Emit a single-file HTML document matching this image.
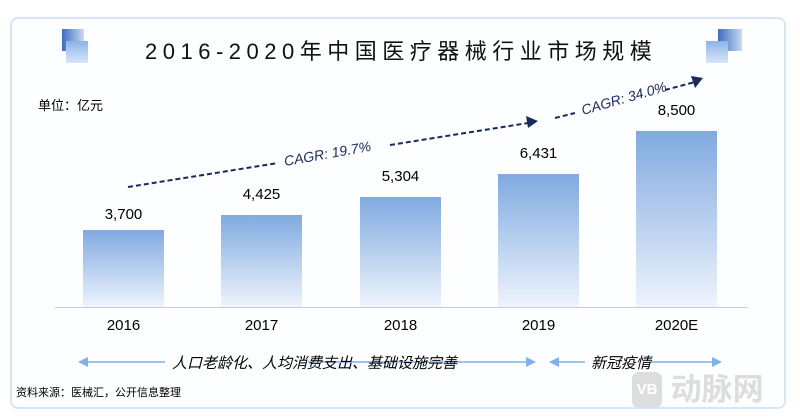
<!DOCTYPE html>
<html><head><meta charset="utf-8"><style>
body{margin:0;width:800px;height:417px;background:#fff;font-family:"Liberation Sans","Noto Sans CJK SC",sans-serif;position:relative;overflow:hidden}
.card{position:absolute;left:10px;top:17px;width:776px;height:392px;border:2px solid #d6e6f6;border-radius:8px;box-sizing:border-box;background:#fdfeff}
.t{position:absolute;white-space:nowrap}
.bar{position:absolute;width:81px;background:linear-gradient(#80aae0,#eef4fc);}
.yr{position:absolute;top:317px;font-size:15px;width:81px;text-align:center}
.val{position:absolute;font-size:15px;width:81px;text-align:center}
</style></head><body>
<div class="card"></div>
<div style="position:absolute;left:62px;top:29px;width:22px;height:22px;background:linear-gradient(90deg,#3f6cc0,#c9daf3)"></div>
<div style="position:absolute;left:66px;top:41px;width:22px;height:22px;background:linear-gradient(#8db3e8,#d8e6f8)"></div>
<div style="position:absolute;left:718px;top:29px;width:24px;height:22px;background:linear-gradient(90deg,#3f6cc0,#c9daf3)"></div>
<div style="position:absolute;left:706px;top:41px;width:22px;height:22px;background:linear-gradient(#8db3e8,#d8e6f8)"></div>
<div class="t" style="left:145px;top:34px;font-size:22px;letter-spacing:5.5px;color:#111">2016-2020年中国医疗器械行业市场规模</div>
<div class="t" style="left:38px;top:95px;font-size:13px">单位：亿元</div>
<div class="bar" style="left:83px;top:230px;height:77px"></div>
<div class="bar" style="left:221px;top:215px;height:92px"></div>
<div class="bar" style="left:360px;top:197px;height:110px"></div>
<div class="bar" style="left:498px;top:174px;height:133px"></div>
<div class="bar" style="left:636px;top:131px;height:176px"></div>
<div style="position:absolute;left:55px;top:307px;width:693px;height:1px;background:#ccc"></div>
<div class="val" style="left:83px;top:206px">3,700</div>
<div class="val" style="left:221px;top:186px">4,425</div>
<div class="val" style="left:360px;top:168px">5,304</div>
<div class="val" style="left:498px;top:145px">6,431</div>
<div class="val" style="left:636px;top:102px">8,500</div>
<div class="yr" style="left:83px">2016</div>
<div class="yr" style="left:221px">2017</div>
<div class="yr" style="left:360px">2018</div>
<div class="yr" style="left:498px">2019</div>
<div class="yr" style="left:636px">2020E</div>
<svg width="800" height="417" style="position:absolute;left:0;top:0">
<g stroke="#1a2a5a" stroke-width="2" stroke-dasharray="5,3" fill="none">
<line x1="128" y1="187" x2="278" y2="163"/>
<line x1="390" y1="145" x2="528" y2="123"/>
<line x1="555" y1="118" x2="575" y2="113"/>
<line x1="665" y1="90" x2="695" y2="82"/>
</g>
<polygon points="538,121 526,116 528,128" fill="#1a2a5a"/>
<polygon points="703,78 691,76 695,88" fill="#1a2a5a"/>
<text x="0" y="0" transform="translate(285,166) rotate(-10)" font-size="14" font-style="italic" fill="#1a2a5a" font-family="Liberation Sans">CAGR: 19.7%</text>
<text x="0" y="0" transform="translate(583,115) rotate(-16)" font-size="14" font-style="italic" fill="#1a2a5a" font-family="Liberation Sans">CAGR: 34.0%</text>
<g stroke="#7fb0e6" stroke-width="1.5">
<line x1="85" y1="362" x2="165" y2="362"/><line x1="308" y1="362" x2="528" y2="362"/>
<line x1="555" y1="362" x2="585" y2="362"/><line x1="650" y1="362" x2="715" y2="362"/>
</g>
<g fill="#7fb0e6">
<polygon points="78,362 88,357 88,367"/><polygon points="536,362 526,357 526,367"/>
<polygon points="549,362 559,357 559,367"/><polygon points="722,362 712,357 712,367"/>
</g>
</svg>
<div class="t" style="left:172px;top:352px;font-size:15px;font-style:italic">人口老龄化、人均消费支出、基础设施完善</div>
<div class="t" style="left:591px;top:352px;font-size:15px;font-style:italic">新冠疫情</div>
<div class="t" style="left:16px;top:384px;font-size:11px">资料来源：医械汇，公开信息整理</div>
<div class="t" style="left:632px;top:372px;font-size:31px;line-height:36px;color:#ddd;font-weight:bold"><span style="display:inline-block;width:30px;height:36px;border-radius:7px;background:#ddd;color:#fff;font-size:15px;text-align:center;line-height:36px;vertical-align:top">VB</span> 动脉网</div>
</body></html>
